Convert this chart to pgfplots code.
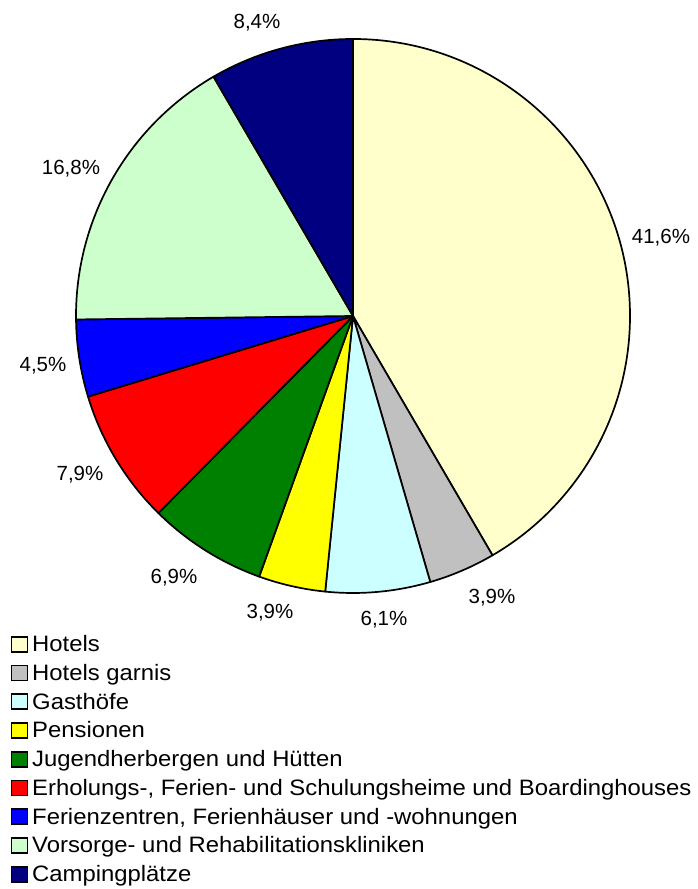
\documentclass[border=0pt]{standalone}
\usepackage{pgfplots}
\pgfplotsset{compat=1.18}
\usepackage{pgfplotstable}
\usepackage{fontspec}
\setmainfont{Liberation Sans}
\newfontfamily\legfont[FakeStretch=1.07]{Liberation Sans}
\definecolor{cA}{HTML}{FFFFCC}
\definecolor{cB}{HTML}{C0C0C0}
\definecolor{cC}{HTML}{CCFFFF}
\definecolor{cD}{HTML}{FFFF00}
\definecolor{cE}{HTML}{008000}
\definecolor{cF}{HTML}{FF0000}
\definecolor{cG}{HTML}{0000FF}
\definecolor{cH}{HTML}{CCFFCC}
\definecolor{cI}{HTML}{000080}
\pgfplotstableread[col sep=semicolon]{
value;color;lx;ly;name
41.6;cA;661;236;Hotels
3.9;cB;492;596;Hotels garnis
6.1;cC;384;618;Gasthöfe
3.9;cD;270;611;Pensionen
6.9;cE;174;576;Jugendherbergen und Hütten
7.9;cF;80;473;Erholungs-, Ferien- und Schulungsheime und Boardinghouses
4.5;cG;43;364;Ferienzentren, Ferienhäuser und -wohnungen
16.8;cH;71;167;Vorsorge- und Rehabilitationskliniken
8.4;cI;257;21;Campingplätze
}\piedata
\begin{document}
\begin{tikzpicture}
\begin{axis}[hide axis, scale only axis, width=697pt, height=889pt,
  xmin=0, xmax=697, ymin=0, ymax=889, clip=false,
  /pgf/number format/assume math mode=true]
\addplot[draw=none] coordinates {(0,0) (697,889)};
\pgfplotsextra{
  \path (axis cs:0,0) rectangle (axis cs:697,889);
  \pgfplotstablegetrowsof{\piedata}
  \pgfmathtruncatemacro\N{\pgfplotsretval-1}
  \gdef\startangle{90}
  \fontsize{20.5}{24}\selectfont
  \foreach \i in {0,...,\N}{
    \pgfplotstablegetelem{\i}{value}\of\piedata \let\v\pgfplotsretval
    \pgfplotstablegetelem{\i}{color}\of\piedata \let\c\pgfplotsretval
    \pgfplotstablegetelem{\i}{lx}\of\piedata \let\lx\pgfplotsretval
    \pgfplotstablegetelem{\i}{ly}\of\piedata \let\ly\pgfplotsretval
    \pgfplotstablegetelem{\i}{name}\of\piedata \let\nm\pgfplotsretval
    \pgfmathsetmacro\endangle{\startangle-3.6*\v}
    \filldraw[fill=\c, draw=black, line width=1.7pt, line join=round]
      (axis cs:353,573) -- ++(\startangle:277pt)
      arc[start angle=\startangle, end angle=\endangle, radius=277pt] -- cycle;
    \pgfmathsetmacro\lyy{889-\ly-7.3}
    \node[anchor=base, inner sep=0pt] at (axis cs:\lx,\lyy)
      {\pgfmathprintnumber[fixed, fixed zerofill, precision=1, use comma, assume math mode=true]{\v}\%};
    \pgfmathsetmacro\rb{889-(651.7+28.75*\i)}
    \filldraw[fill=\c, draw=black, line width=1.7pt]
      (axis cs:11.5,\rb) rectangle (axis cs:27.5,\rb+15);
    \node[anchor=base west, inner sep=0pt] at (axis cs:32,\rb) {\legfont\fontsize{22.3}{26}\selectfont\nm};
    \global\let\startangle\endangle
  }
}
\end{axis}
\end{tikzpicture}
\end{document}
